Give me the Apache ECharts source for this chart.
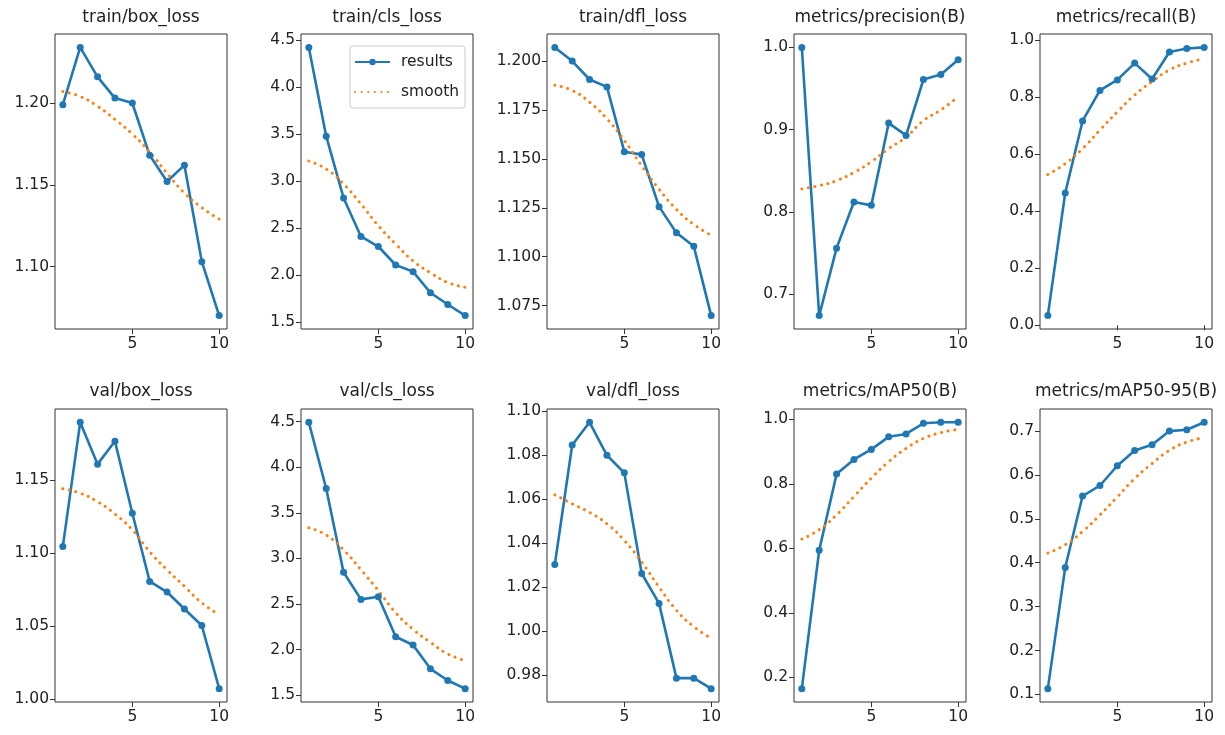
<!DOCTYPE html>
<html>
<head>
<meta charset="utf-8">
<title>results</title>
<script src="https://cdn.jsdelivr.net/npm/echarts@6/dist/echarts.min.js"></script>
<style>
  html, body { margin: 0; padding: 0; background: #fff; }
  #chart { width: 1225px; height: 735px; }
</style>
</head>
<body>
<div id="chart"></div>
<script>
// epochs on the x axis
const epochs = [1, 2, 3, 4, 5, 6, 7, 8, 9, 10];
const xTicks = [5, 10];

// top row
const trainBoxLoss = [1.199, 1.234, 1.216, 1.203, 1.200, 1.168, 1.152, 1.162, 1.103, 1.070];
const trainBoxSmooth = [1.207, 1.204, 1.198, 1.190, 1.181, 1.170, 1.157, 1.145, 1.136, 1.129];
const trainBoxTicks = [1.10, 1.15, 1.20];

const trainClsLoss = [4.425, 3.479, 2.821, 2.411, 2.304, 2.107, 2.036, 1.811, 1.686, 1.568];
const trainClsSmooth = [3.214, 3.13, 2.97, 2.757, 2.525, 2.33, 2.15, 2.025, 1.92, 1.87];
const trainClsTicks = [1.5, 2.0, 2.5, 3.0, 3.5, 4.0, 4.5];

const trainDflLoss = [1.207, 1.200, 1.1906, 1.1868, 1.1537, 1.1522, 1.1256, 1.1122, 1.1053, 1.0699];
const trainDflSmooth = [1.1877, 1.185, 1.179, 1.1705, 1.1594, 1.1465, 1.1345, 1.1242, 1.1165, 1.111];
const trainDflTicks = [1.075, 1.100, 1.125, 1.150, 1.175, 1.200];

const precision = [1.000, 0.674, 0.756, 0.812, 0.808, 0.908, 0.893, 0.961, 0.967, 0.985];
const precisionSmooth = [0.828, 0.832, 0.838, 0.848, 0.861, 0.877, 0.891, 0.911, 0.924, 0.940];
const precisionTicks = [0.7, 0.8, 0.9, 1.0];

const recall = [0.034, 0.464, 0.717, 0.824, 0.861, 0.920, 0.864, 0.959, 0.971, 0.975];
const recallSmooth = [0.529, 0.567, 0.62, 0.685, 0.749, 0.808, 0.855, 0.896, 0.92, 0.935];
const recallTicks = [0.0, 0.2, 0.4, 0.6, 0.8, 1.0];

// bottom row
const valBoxLoss = [1.1045, 1.1895, 1.1609, 1.1766, 1.1273, 1.0807, 1.0734, 1.0618, 1.0505, 1.0073];
const valBoxSmooth = [1.1441, 1.141, 1.1352, 1.1268, 1.116, 1.101, 1.0886, 1.0773, 1.066, 1.058];
const valBoxTicks = [1.00, 1.05, 1.10, 1.15];

const valClsLoss = [4.493, 3.767, 2.848, 2.551, 2.580, 2.141, 2.051, 1.790, 1.662, 1.572];
const valClsSmooth = [3.337, 3.257, 3.094, 2.876, 2.648, 2.405, 2.223, 2.08, 1.953, 1.880];
const valClsTicks = [1.5, 2.0, 2.5, 3.0, 3.5, 4.0, 4.5];

const valDflLoss = [1.0303, 1.0847, 1.095, 1.080, 1.072, 1.0262, 1.0126, 0.9786, 0.9786, 0.9738];
const valDflSmooth = [1.062, 1.0579, 1.054, 1.0488, 1.0412, 1.0314, 1.02, 1.0095, 1.002, 0.9967];
const valDflTicks = [0.98, 1.00, 1.02, 1.04, 1.06, 1.08, 1.10];

const map50 = [0.165, 0.594, 0.831, 0.876, 0.907, 0.946, 0.955, 0.988, 0.991, 0.991];
const map50Smooth = [0.629, 0.658, 0.704, 0.761, 0.818, 0.869, 0.910, 0.941, 0.959, 0.969];
const map50Ticks = [0.2, 0.4, 0.6, 0.8, 1.0];

const map5095 = [0.113, 0.389, 0.552, 0.576, 0.621, 0.656, 0.669, 0.700, 0.703, 0.720];
const map5095Smooth = [0.422, 0.441, 0.471, 0.509, 0.550, 0.592, 0.626, 0.656, 0.675, 0.685];
const map5095Ticks = [0.1, 0.2, 0.3, 0.4, 0.5, 0.6, 0.7];

const panels = [
  { title: "train/box_loss", results: trainBoxLoss, smooth: trainBoxSmooth, ticks: trainBoxTicks, dec: 2 },
  { title: "train/cls_loss", results: trainClsLoss, smooth: trainClsSmooth, ticks: trainClsTicks, dec: 1 },
  { title: "train/dfl_loss", results: trainDflLoss, smooth: trainDflSmooth, ticks: trainDflTicks, dec: 3 },
  { title: "metrics/precision(B)", results: precision, smooth: precisionSmooth, ticks: precisionTicks, dec: 1 },
  { title: "metrics/recall(B)", results: recall, smooth: recallSmooth, ticks: recallTicks, dec: 1 },
  { title: "val/box_loss", results: valBoxLoss, smooth: valBoxSmooth, ticks: valBoxTicks, dec: 2 },
  { title: "val/cls_loss", results: valClsLoss, smooth: valClsSmooth, ticks: valClsTicks, dec: 1 },
  { title: "val/dfl_loss", results: valDflLoss, smooth: valDflSmooth, ticks: valDflTicks, dec: 2 },
  { title: "metrics/mAP50(B)", results: map50, smooth: map50Smooth, ticks: map50Ticks, dec: 1 },
  { title: "metrics/mAP50-95(B)", results: map5095, smooth: map5095Smooth, ticks: map5095Ticks, dec: 1 }
];

const lefts = [55, 301, 547, 794, 1040];
const rowTop = [34, 409];
const rowHeight = [295, 293];
const titleY = [18, 392];
const plotWidth = 172;
const textColor = "#222";
const font = "DejaVu Sans";

const grids = [], xAxes = [], yAxes = [], series = [], titles = [];

panels.forEach((p, i) => {
  const row = Math.floor(i / 5), col = i % 5;
  grids.push({
    left: lefts[col],
    top: rowTop[row],
    width: plotWidth,
    height: rowHeight[row],
    show: true,
    borderColor: "#333",
    borderWidth: 1,
    backgroundColor: "#fff"
  });

  // matplotlib style 5% margins
  const all = p.results.concat(p.smooth);
  const lo = Math.min(...all), hi = Math.max(...all);
  const pad = (hi - lo) * 0.05;

  xAxes.push({
    type: "value",
    gridIndex: i,
    min: 0.55,
    max: 10.45,
    axisLine: { show: false },
    splitLine: { show: false },
    axisTick: { show: true, length: 5, customValues: xTicks, lineStyle: { color: "#333" } },
    axisLabel: {
      customValues: xTicks,
      color: textColor,
      fontFamily: font,
      fontSize: 15.5,
      margin: 7
    }
  });

  yAxes.push({
    type: "value",
    gridIndex: i,
    min: lo - pad,
    max: hi + pad,
    axisLine: { show: false },
    splitLine: { show: false },
    axisTick: { show: true, length: 5, customValues: p.ticks, lineStyle: { color: "#333" } },
    axisLabel: {
      customValues: p.ticks,
      color: textColor,
      fontFamily: font,
      fontSize: 15.5,
      margin: 6,
      formatter: v => v.toFixed(p.dec)
    }
  });

  series.push({
    name: "results",
    type: "line",
    xAxisIndex: i,
    yAxisIndex: i,
    data: epochs.map((e, k) => [e, p.results[k]]),
    symbol: "circle",
    symbolSize: 7,
    itemStyle: { color: "#1f77b4" },
    lineStyle: { color: "#1f77b4", width: 2.6 }
  });
  series.push({
    name: "smooth",
    type: "line",
    xAxisIndex: i,
    yAxisIndex: i,
    data: epochs.map((e, k) => [e, p.smooth[k]]),
    showSymbol: false,
    symbol: "none",
    smooth: true,
    itemStyle: { color: "#ff7f0e" },
    lineStyle: { color: "#ff7f0e", width: 3, type: [0.1, 6.5], cap: "round" }
  });

  titles.push({
    type: "text",
    x: lefts[col] + plotWidth / 2,
    y: titleY[row],
    style: {
      text: p.title,
      fill: textColor,
      font: "17px DejaVu Sans",
      textAlign: "center",
      textVerticalAlign: "middle",
      align: "center",
      verticalAlign: "middle"
    }
  });
});

const chart = echarts.init(document.getElementById("chart"));
chart.setOption({
  animation: false,
  backgroundColor: "#fff",
  grid: grids,
  xAxis: xAxes,
  yAxis: yAxes,
  series: series,
  graphic: titles,
  legend: {
    data: [
      { name: "results" },
      { name: "smooth", itemStyle: { color: "rgba(0,0,0,0)", borderWidth: 0 } }
    ],
    orient: "vertical",
    left: 350,
    top: 46,
    width: 115,
    padding: [8, 6, 8, 4],
    itemWidth: 35,
    itemHeight: 8,
    itemGap: 14,
    borderColor: "#ccc",
    borderWidth: 1,
    borderRadius: 3,
    backgroundColor: "rgba(255,255,255,0.8)",
    textStyle: { color: textColor, fontFamily: font, fontSize: 15.5, padding: [0, 0, 0, 6] }
  }
});
</script>
</body>
</html>
